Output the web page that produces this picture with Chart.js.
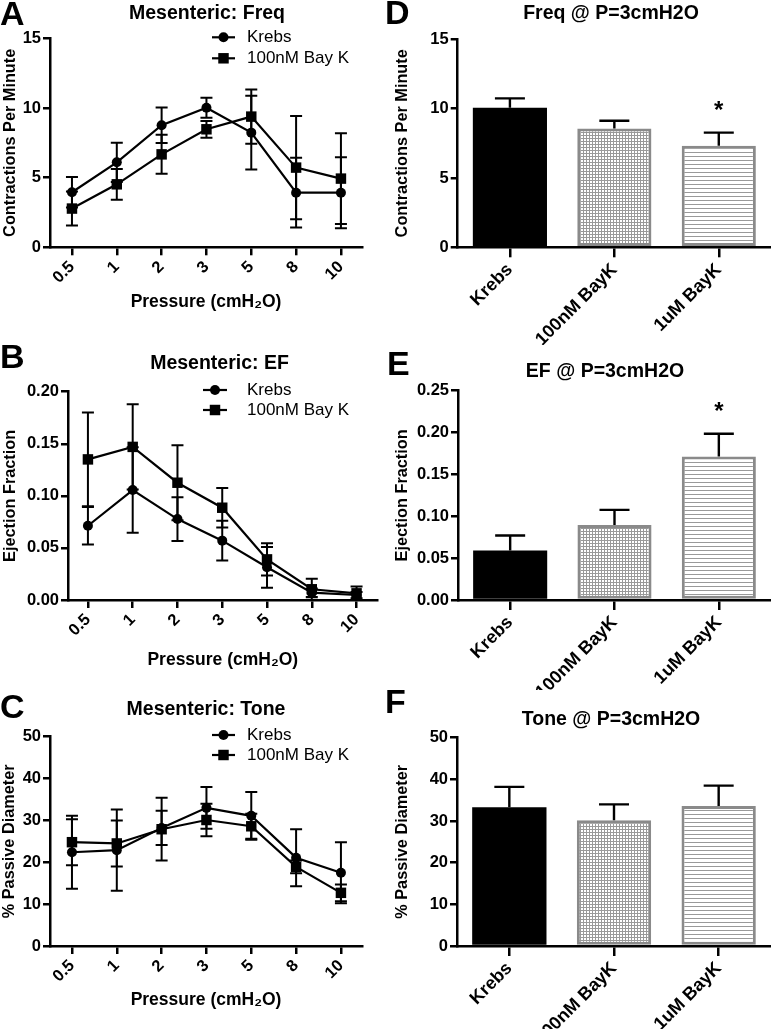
<!DOCTYPE html>
<html>
<head>
<meta charset="utf-8">
<script src="https://cdn.jsdelivr.net/npm/chart.js@4.4.1/dist/chart.umd.min.js"></script>
<style>
  html, body { margin: 0; padding: 0; background: #fff; }
  body { width: 771px; height: 1029px; position: relative; overflow: hidden; }
  canvas { position: absolute; }
</style>
</head>
<body>
<canvas id="cA"></canvas>
<canvas id="cB"></canvas>
<canvas id="cC"></canvas>
<canvas id="cD"></canvas>
<canvas id="cE"></canvas>
<canvas id="cF"></canvas>
<script>
// ---------------- DATA ----------------
const pressures = ['0.5', '1', '2', '3', '5', '8', '10'];
const seriesNames = ['Krebs', '100nM Bay K'];

const freqKrebs    = [3.95, 6.10, 8.76, 10.02, 8.23, 3.92, 3.92];
const freqKrebsErr = [1.10, 1.41, 1.27, 0.72, 2.65, 2.50, 2.55];
const freqBayK     = [2.78, 4.52, 6.67, 8.47, 9.38, 5.72, 4.93];
const freqBayKErr  = [1.22, 1.10, 1.40, 0.60, 1.95, 3.70, 3.25];

const efKrebs    = [0.0713, 0.1056, 0.0777, 0.0570, 0.0314, 0.0070, 0.0048];
const efKrebsErr = [0.0180, 0.0410, 0.0210, 0.0190, 0.0196, 0.0040, 0.0030];
const efBayK     = [0.1350, 0.1470, 0.1126, 0.0886, 0.0390, 0.0103, 0.0064];
const efBayKErr  = [0.0450, 0.0410, 0.0360, 0.0190, 0.0155, 0.0100, 0.0065];

const toneKrebs    = [22.4, 22.9, 28.2, 33.0, 31.1, 21.1, 17.5];
const toneKrebsErr = [8.7, 9.7, 4.1, 5.0, 5.7, 6.8, 7.3];
const toneBayK     = [24.8, 24.5, 27.9, 30.1, 28.6, 18.9, 12.7];
const toneBayKErr  = [5.5, 5.5, 7.5, 3.9, 3.0, 1.5, 2.0];

const groups = ['Krebs', '100nM BayK', '1uM BayK'];
const freqBars    = [10.07, 8.56, 7.33];
const freqBarsErr = [0.67, 0.57, 0.94];
const freqSig     = ['', '', '*'];
const efBars      = [0.059, 0.0897, 0.1715];
const efBarsErr   = [0.018, 0.018, 0.027];
const efSig       = ['', '', '*'];
const toneBars    = [33.3, 30.2, 33.6];
const toneBarsErr = [4.9, 3.8, 4.9];
const toneSig     = ['', '', ''];

const freqTicks = [0, 5, 10, 15];
const efLineTicks = [0, 0.05, 0.10, 0.15, 0.20];
const efBarTicks = [0, 0.05, 0.10, 0.15, 0.20, 0.25];
const toneTicks = [0, 10, 20, 30, 40, 50];

// ---------------- STYLE ----------------
const FONT = '"Liberation Sans", Arial, Helvetica, sans-serif';
Chart.defaults.font.family = FONT;
Chart.defaults.color = '#000';
Chart.defaults.animation = false;

function makeGridPattern() {
  const c = document.createElement('canvas'); c.width = 3; c.height = 3;
  const x = c.getContext('2d');
  x.fillStyle = '#ffffff'; x.fillRect(0, 0, 3, 3);
  x.fillStyle = '#999999'; x.fillRect(0, 0, 3, 1); x.fillRect(0, 0, 1, 3);
  return x.createPattern(c, 'repeat');
}
function makeLinePattern() {
  const c = document.createElement('canvas'); c.width = 4; c.height = 4;
  const x = c.getContext('2d');
  x.fillStyle = '#ffffff'; x.fillRect(0, 0, 4, 4);
  x.fillStyle = '#999999'; x.fillRect(0, 0, 4, 1);
  return x.createPattern(c, 'repeat');
}

// ---------------- PLUGINS ----------------
function drawErrors(chart, o) {
  const ctx = chart.ctx, ys = chart.scales.y;
  ctx.save();
  ctx.strokeStyle = '#000';
  ctx.lineWidth = o.lineWidth;
  chart.data.datasets.forEach((ds, i) => {
    const meta = chart.getDatasetMeta(i);
    meta.data.forEach((el, j) => {
      const raw = ds.data[j];
      const val = (typeof raw === 'object') ? raw.y : raw;
      const e = ds.errors[j];
      const x = el.x;
      const yT = ys.getPixelForValue(val + e);
      const yB = o.mode === 'bar' ? el.y : ys.getPixelForValue(val - e);
      ctx.beginPath();
      ctx.moveTo(x, yB); ctx.lineTo(x, yT);
      ctx.moveTo(x - o.cap, yT); ctx.lineTo(x + o.cap, yT);
      if (o.mode === 'line') { ctx.moveTo(x - o.cap, yB); ctx.lineTo(x + o.cap, yB); }
      ctx.stroke();
      if (ds.sig && ds.sig[j]) {
        ctx.fillStyle = '#000';
        ctx.font = 'bold 24px ' + FONT;
        ctx.textAlign = 'center';
        ctx.textBaseline = 'alphabetic';
        ctx.fillText(ds.sig[j], x, yT - 29 + 14);
      }
    });
  });
  ctx.restore();
}
const errorBars = {
  id: 'errorBars',
  beforeDatasetsDraw(chart, args, o) { if (o.mode === 'line') drawErrors(chart, o); },
  afterDatasetsDraw(chart, args, o) { if (o.mode === 'bar') drawErrors(chart, o); }
};

const panelText = {
  id: 'panelText',
  afterDraw(chart, args, o) {
    const ctx = chart.ctx;
    ctx.save();
    ctx.fillStyle = '#000';
    ctx.textBaseline = 'alphabetic';
    ctx.font = 'bold 34px ' + FONT;
    ctx.textAlign = 'left';
    ctx.fillText(o.letter, o.letterX, o.letterY);
    ctx.font = 'bold 19.5px ' + FONT;
    ctx.textAlign = 'center';
    ctx.fillText(o.title, o.titleX, o.titleY);
    if (o.legend) {
      const L = o.legend;
      chart.data.datasets.forEach((ds, i) => {
        const y = L.rows[i];
        ctx.strokeStyle = '#000'; ctx.lineWidth = 2.2;
        ctx.beginPath(); ctx.moveTo(L.x1, y); ctx.lineTo(L.x2, y); ctx.stroke();
        const cx = (L.x1 + L.x2) / 2;
        ctx.fillStyle = '#000';
        if (ds.pointStyle === 'circle') {
          ctx.beginPath(); ctx.arc(cx, y, ds.pointRadius, 0, Math.PI * 2); ctx.fill();
        } else {
          const s = ds.pointRadius * Math.SQRT1_2;
          ctx.fillRect(cx - s, y - s, 2 * s, 2 * s);
        }
        ctx.font = '17px ' + FONT;
        ctx.textAlign = 'left';
        ctx.textBaseline = 'middle';
        ctx.fillText(ds.label, L.tx, y);
      });
    }
    ctx.restore();
  }
};

// ---------------- PANEL BUILDERS ----------------
function placeCanvas(id, g) {
  const cv = document.getElementById(id);
  cv.width = g.w; cv.height = g.h;
  cv.style.left = g.x0 + 'px'; cv.style.top = g.y0 + 'px';
  cv.style.width = g.w + 'px'; cv.style.height = g.h + 'px';
  return cv;
}

function yScale(g, c) {
  return {
    min: c.yTicks[0], max: c.yTicks[c.yTicks.length - 1],
    afterBuildTicks: s => { s.ticks = c.yTicks.map(v => ({ value: v })); },
    afterFit: s => { s.width = g.L - g.x0; },
    ticks: { callback: v => c.yFmt(v), font: { size: 16.5, weight: 'bold' }, padding: 2, color: '#000' },
    grid: { display: true, drawOnChartArea: false, drawTicks: true, tickLength: 7, color: '#000', lineWidth: 2.5 },
    border: { display: true, color: '#000', width: 2.5 },
    title: { display: true, text: c.yTitle, font: { size: 16.3, weight: 'bold' }, color: '#000', padding: { top: g.ytPad, bottom: 0 } }
  };
}

function textOpts(g, c) {
  const o = {
    letter: c.letter, letterX: c.letterPos[0] - g.x0, letterY: c.letterPos[1] - g.y0,
    title: c.title, titleX: c.titlePos[0] - g.x0, titleY: c.titlePos[1] - g.y0
  };
  if (c.legend) {
    o.legend = {
      rows: c.legend.rows.map(r => r - g.y0),
      x1: c.legend.x1 - g.x0, x2: c.legend.x2 - g.x0, tx: c.legend.tx - g.x0
    };
  }
  return o;
}

function linePanel(id, g, c) {
  const cv = placeCanvas(id, g);
  const mk = (vals, errs, name, style, r) => ({
    label: name,
    data: vals.map((v, i) => ({ x: i, y: v })),
    errors: errs,
    borderColor: '#000', backgroundColor: '#000',
    borderWidth: 2.2,
    pointStyle: style, pointRadius: r, pointHoverRadius: r,
    pointBackgroundColor: '#000', pointBorderColor: '#000', pointBorderWidth: 0,
    tension: 0, clip: false
  });
  return new Chart(cv, {
    type: 'line',
    data: {
      datasets: [
        mk(c.s1, c.e1, seriesNames[0], 'circle', 5),
        mk(c.s2, c.e2, seriesNames[1], 'rect', 7.4)
      ]
    },
    options: {
      responsive: false, animation: false,
      layout: { padding: { left: 0, top: g.T - g.y0, right: g.x0 + g.w - g.R, bottom: 0 } },
      plugins: {
        legend: { display: false }, title: { display: false }, tooltip: { enabled: false },
        errorBars: { mode: 'line', cap: 6, lineWidth: 2 },
        panelText: textOpts(g, c)
      },
      scales: {
        x: {
          type: 'linear', min: g.xmin, max: g.xmax,
          afterBuildTicks: s => { s.ticks = pressures.map((p, i) => ({ value: i })); },
          afterFit: s => { s.height = g.y0 + g.h - g.B; },
          ticks: { callback: v => pressures[v], minRotation: 45, maxRotation: 45, autoSkip: false,
                   font: { size: 16.5, weight: 'bold' }, padding: 2, color: '#000' },
          grid: { display: true, drawOnChartArea: false, drawTicks: true, tickLength: 8, color: '#000', lineWidth: 2.5 },
          border: { display: true, color: '#000', width: 2.5 },
          title: { display: true, text: 'Pressure (cmH\u2082O)', font: { size: 17.5, weight: 'bold' }, color: '#000',
                   padding: { top: 0, bottom: g.xtPad } }
        },
        y: yScale(g, c)
      }
    },
    plugins: [errorBars, panelText]
  });
}

function barPanel(id, g, c) {
  const cv = placeCanvas(id, g);
  return new Chart(cv, {
    type: 'bar',
    data: {
      labels: groups,
      datasets: [{
        label: c.title,
        data: c.vals, errors: c.errs, sig: c.sig,
        backgroundColor: ['#000000', makeGridPattern(), makeLinePattern()],
        borderColor: ['#000000', '#8a8a8a', '#8a8a8a'],
        borderWidth: [0, 3, 3], borderSkipped: false,
        barPercentage: 0.71, categoryPercentage: 1.0
      }]
    },
    options: {
      responsive: false, animation: false,
      layout: { padding: { left: 0, top: g.T - g.y0, right: g.x0 + g.w - g.R, bottom: 0 } },
      plugins: {
        legend: { display: false }, title: { display: false }, tooltip: { enabled: false },
        errorBars: { mode: 'bar', cap: 15, lineWidth: 2.4 },
        panelText: textOpts(g, c)
      },
      scales: {
        x: {
          type: 'category', offset: true,
          afterFit: s => { s.height = g.y0 + g.h - g.B; },
          ticks: { minRotation: 45, maxRotation: 45, autoSkip: false, font: { size: 18, weight: 'bold' }, padding: 2, color: '#000' },
          grid: { display: true, offset: false, drawOnChartArea: false, drawTicks: true, tickLength: 10, color: '#000', lineWidth: 2.5 },
          border: { display: true, color: '#000', width: 2.5 }
        },
        y: yScale(g, c)
      }
    },
    plugins: [errorBars, panelText]
  });
}

const intFmt = v => String(v);
const dec2 = v => Number(v).toFixed(2);

// ---------------- PANELS ----------------
linePanel('cA',
  { x0: 0, y0: 0, w: 385, h: 330, L: 50, T: 38.3, R: 362, B: 247.3, xmin: -0.49, xmax: 6.47, ytPad: 0.5, xtPad: 17.5 },
  { s1: freqKrebs, e1: freqKrebsErr, s2: freqBayK, e2: freqBayKErr, yTicks: freqTicks, yFmt: intFmt,
    yTitle: 'Contractions Per Minute', letter: 'A', letterPos: [0, 25], title: 'Mesenteric: Freq', titlePos: [207, 19],
    legend: { rows: [37.3, 58.3], x1: 212, x2: 235, tx: 247 } });

linePanel('cB',
  { x0: 0, y0: 330, w: 385, h: 345, L: 68, T: 391.7, R: 379, B: 600, xmin: -0.445, xmax: 6.47, ytPad: 1, xtPad: 4.5 },
  { s1: efKrebs, e1: efKrebsErr, s2: efBayK, e2: efBayKErr, yTicks: efLineTicks, yFmt: dec2,
    yTitle: 'Ejection Fraction', letter: 'B', letterPos: [0, 368], title: 'Mesenteric: EF', titlePos: [219.5, 369],
    legend: { rows: [390, 410], x1: 203, x2: 227, tx: 247 } });

linePanel('cC',
  { x0: 0, y0: 670, w: 385, h: 359, L: 50, T: 736.7, R: 362, B: 946, xmin: -0.49, xmax: 6.47, ytPad: 0, xtPad: 18.5 },
  { s1: toneKrebs, e1: toneKrebsErr, s2: toneBayK, e2: toneBayKErr, yTicks: toneTicks, yFmt: intFmt,
    yTitle: '% Passive Diameter', letter: 'C', letterPos: [0, 718], title: 'Mesenteric: Tone', titlePos: [206, 715],
    legend: { rows: [735, 755], x1: 212, x2: 235, tx: 247 } });

barPanel('cD',
  { x0: 385, y0: 0, w: 386, h: 345, L: 457.7, T: 39.3, R: 771, B: 247.3, ytPad: 8 },
  { vals: freqBars, errs: freqBarsErr, sig: freqSig, yTicks: freqTicks, yFmt: intFmt,
    yTitle: 'Contractions Per Minute', letter: 'D', letterPos: [385, 24], title: 'Freq @ P=3cmH2O', titlePos: [611, 18.5] });

barPanel('cE',
  { x0: 385, y0: 330, w: 386, h: 360, L: 458, T: 390.7, R: 771, B: 600, ytPad: 8 },
  { vals: efBars, errs: efBarsErr, sig: efSig, yTicks: efBarTicks, yFmt: dec2,
    yTitle: 'Ejection Fraction', letter: 'E', letterPos: [387, 375], title: 'EF @ P=3cmH2O', titlePos: [605, 377] });

barPanel('cF',
  { x0: 385, y0: 670, w: 386, h: 359, L: 457, T: 737.7, R: 771, B: 946, ytPad: 8 },
  { vals: toneBars, errs: toneBarsErr, sig: toneSig, yTicks: toneTicks, yFmt: intFmt,
    yTitle: '% Passive Diameter', letter: 'F', letterPos: [385, 713], title: 'Tone @ P=3cmH2O', titlePos: [611, 725] });
</script>
</body>
</html>
